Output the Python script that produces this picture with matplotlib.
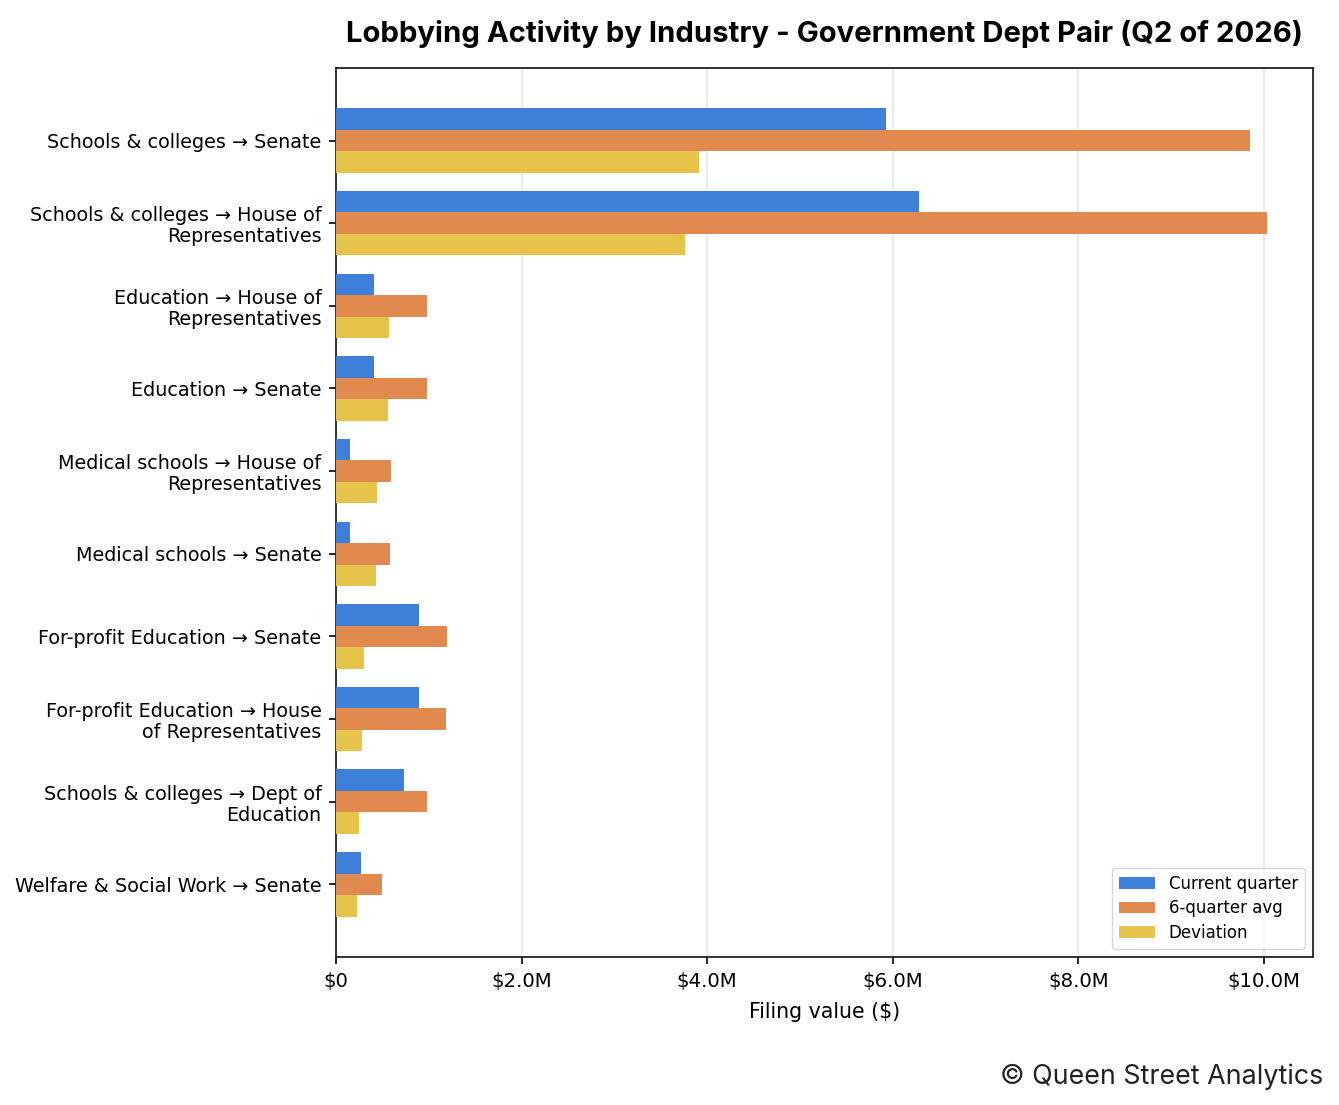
import matplotlib
matplotlib.use("Agg")
import matplotlib.pyplot as plt
import numpy as np
from matplotlib.ticker import FuncFormatter

plt.rcParams['font.family'] = ['DejaVu Sans']

categories = [
    "Schools & colleges → Senate",
    "Schools & colleges → House of\nRepresentatives",
    "Education → House of\nRepresentatives",
    "Education → Senate",
    "Medical schools → House of\nRepresentatives",
    "Medical schools → Senate",
    "For-profit Education → Senate",
    "For-profit Education → House\nof Representatives",
    "Schools & colleges → Dept of\nEducation",
    "Welfare & Social Work → Senate",
]
current_quarter = [5.93e6, 6.28e6, 0.41e6, 0.41e6, 0.15e6, 0.15e6, 0.89e6, 0.89e6, 0.73e6, 0.27e6]
six_quarter_avg = [9.85e6, 10.03e6, 0.98e6, 0.98e6, 0.59e6, 0.58e6, 1.20e6, 1.18e6, 0.98e6, 0.50e6]
deviation = [3.91e6, 3.76e6, 0.57e6, 0.56e6, 0.44e6, 0.43e6, 0.30e6, 0.28e6, 0.25e6, 0.23e6]
series_names = ["Current quarter", "6-quarter avg", "Deviation"]
colors = ["#3D7FD9", "#E08A4F", "#E6C44B"]

fig = plt.figure(figsize=(13.39, 11.05), dpi=100)
ax = fig.add_axes([0.251, 0.134, 0.7296, 0.8045])

y = np.arange(len(categories))
h = 0.26
for i, (vals, name, c) in enumerate(zip([current_quarter, six_quarter_avg, deviation], series_names, colors)):
    ax.barh(y + (i - 1) * h, vals, height=h, color=c, label=name, zorder=3)

ax.set_yticks(y)
ax.set_yticklabels(categories, fontsize=13.8, linespacing=1.15)
ax.invert_yaxis()
ax.xaxis.set_major_formatter(FuncFormatter(lambda v, p: "$0" if v == 0 else f"${v/1e6:.1f}M"))
ax.tick_params(axis="x", labelsize=14.2, length=5, width=1.2, pad=6)
ax.tick_params(axis="y", length=5, width=1.2, pad=5.5)
ax.set_xlabel("Filing value ($)", fontsize=14.8, labelpad=8)
ax.grid(axis="x", color="#e6e6e6", linewidth=1.2, zorder=0)
for s in ax.spines.values():
    s.set_linewidth(1.3)
    s.set_color("#222222")

leg = ax.legend(loc="lower right", fontsize=12, frameon=True, fancybox=True,
                edgecolor="#cccccc", handlelength=2.2, borderpad=0.4,
                labelspacing=0.4)

fig.text(0.6158, 0.969, "Lobbying Activity by Industry - Government Dept Pair (Q2 of 2026)",
         ha="center", va="center", fontsize=21.1, fontweight="bold", family="Inter")
fig.text(0.988, 0.026, "© Queen Street Analytics", ha="right", va="center",
         fontsize=19.3, family="Inter", color="#222222")

fig.savefig("out.png", dpi=100)
